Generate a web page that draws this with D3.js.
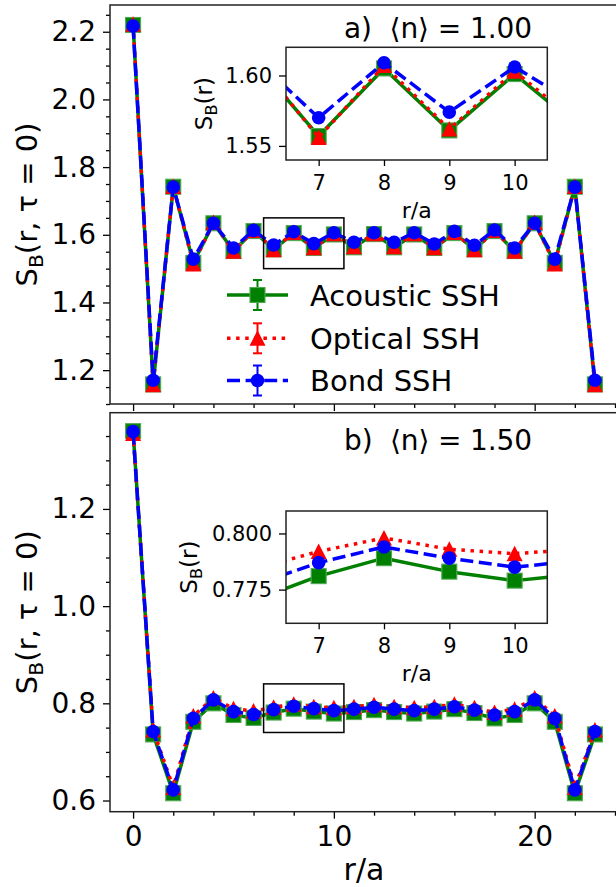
<!DOCTYPE html>
<html><head><meta charset="utf-8">
<script src="https://cdn.jsdelivr.net/npm/d3@7"></script>
<style>
body{margin:0;background:#fff}
svg{display:block}
text{font-family:"DejaVu Sans",sans-serif;fill:#000}
</style>
</head><body>
<svg id="chart" width="616" height="887"></svg>
<script>
// ---------------- data ----------------
const distances = [0,1,2,3,4,5,6,7,8,9,10,11,12,13,14,15,16,17,18,19,20,21,22,23];
const seriesNames = ["Acoustic SSH","Optical SSH","Bond SSH"];
// panel a) <n> = 1.00
const acousticA = [2.220,1.158,1.742,1.517,1.634,1.552,1.611,1.557,1.605,1.561,1.601,1.563,1.602,1.563,1.601,1.561,1.605,1.557,1.611,1.552,1.634,1.517,1.742,1.158];
const opticalA  = [2.222,1.157,1.743,1.514,1.636,1.551,1.613,1.556,1.607,1.562,1.603,1.565,1.603,1.565,1.603,1.562,1.607,1.556,1.613,1.551,1.636,1.514,1.743,1.157];
const bondA     = [2.217,1.170,1.741,1.528,1.634,1.561,1.613,1.570,1.609,1.574,1.606,1.578,1.606,1.578,1.606,1.573,1.610,1.569,1.614,1.561,1.634,1.528,1.741,1.170];
// panel b) <n> = 1.50
const acousticB = [1.360,0.736,0.615,0.762,0.800,0.776,0.770,0.781,0.789,0.783,0.779,0.782,0.786,0.782,0.779,0.783,0.788,0.780,0.769,0.776,0.800,0.762,0.615,0.736];
const opticalB  = [1.355,0.745,0.627,0.774,0.811,0.789,0.784,0.792,0.798,0.793,0.791,0.793,0.797,0.793,0.791,0.793,0.798,0.791,0.781,0.788,0.811,0.774,0.627,0.745];
const bondB     = [1.359,0.742,0.622,0.769,0.807,0.783,0.777,0.787,0.794,0.789,0.785,0.788,0.792,0.788,0.785,0.788,0.793,0.786,0.776,0.783,0.807,0.769,0.622,0.742];
// ticks / labels
const panelTitles = ["a)\u00A0\u00A0\u27E8n\u27E9 = 1.00", "b)\u00A0\u00A0\u27E8n\u27E9 = 1.50"];
const xMajorTicks = [0,10,20];
const xMinorTicks = [2,4,6,8,12,14,16,18,22,24];
const yMajorTicksA = [1.2,1.4,1.6,1.8,2.0,2.2];
const yMajorTicksB = [0.6,0.8,1.0,1.2];
const insetXTicks = [7,8,9,10];
const insetYTicksA = [1.55,1.60];
const insetYTicksB = [0.775,0.800];
const insetXDomain = [6.5,10.5];

// ---------------- layout ----------------
const svg = d3.select("#chart");
const X0 = 110, X1 = 618;
const x = d3.scaleLinear().domain([-1.15,24.15]).range([X0,X1]);
const styles = [
  {color:"#008000", dash:null, marker:"square"},
  {color:"#ff0000", dash:"3.5,5.6", marker:"triangle"},
  {color:"#0000ff", dash:"13,5.6", marker:"circle"}
];
const LW = 3.5;

function drawMarker(g, type, cx, cy, color){
  if(type==="square"){
    g.append("rect").attr("x",cx-7.5).attr("y",cy-7.5).attr("width",15).attr("height",15)
      .attr("fill",color).attr("stroke","#52a852").attr("stroke-width",1.1);
  } else if(type==="triangle"){
    g.append("path").attr("d",`M${cx},${cy-8}L${cx+8},${cy+7.5}L${cx-8},${cy+7.5}Z`).attr("fill",color);
  } else {
    g.append("circle").attr("cx",cx).attr("cy",cy).attr("r",6.8).attr("fill",color);
  }
}

function drawSeries(g, xs, ys, seriesArr){
  seriesArr.forEach((vals,i)=>{
    const st = styles[i];
    const line = d3.line().x((d,j)=>xs(distances[j])).y(d=>ys(d));
    g.append("path").attr("d",line(vals)).attr("fill","none").attr("stroke",st.color)
      .attr("stroke-width",LW).attr("stroke-dasharray",st.dash).attr("stroke-linejoin","round");
    vals.forEach((v,j)=>drawMarker(g, st.marker, xs(distances[j]), ys(v), st.color));
  });
}

function styleAxis(sel, fontSize){
  sel.select(".domain").remove();
  sel.selectAll(".tick line").attr("stroke","#000").attr("stroke-width",1.3);
  sel.selectAll(".tick text").attr("font-size",fontSize).attr("font-family","DejaVu Sans").attr("fill","#000");
}

function ylabel(g, cx, cy, size, rest){
  const t = g.append("text").attr("transform",`translate(${cx},${cy}) rotate(-90)`)
    .attr("text-anchor","middle").attr("font-size",size);
  t.append("tspan").text("S");
  t.append("tspan").attr("font-size",size*0.7).attr("dy",size*0.2).text("B");
  t.append("tspan").attr("dy",-size*0.2).text(rest);
}

const panels = [
  {top:5, bottom:404, ydom:[1.1,2.279], major:yMajorTicksA, data:[acousticA,opticalA,bondA],
   title:panelTitles[0], titleY:37.5, xLabels:false, box:[1.50,1.65],
   inset:{top:47.3,bottom:160,ydom:[1.54,1.62],ticks:insetYTicksA,fmt:".2f",ylabX:212,xlabY:218},
   legend:true},
  {top:412.7, bottom:811.7, ydom:[0.577,1.398], major:yMajorTicksB, data:[acousticB,opticalB,bondB],
   title:panelTitles[1], titleY:450, xLabels:true, box:[0.74,0.84],
   inset:{top:511,bottom:623.3,ydom:[0.76,0.81],ticks:insetYTicksB,fmt:".3f",ylabX:197,xlabY:681},
   legend:false}
];

panels.forEach((p,pi)=>{
  const g = svg.append("g");
  const y = d3.scaleLinear().domain(p.ydom).range([p.bottom,p.top]);
  const clipId = "clip"+pi;
  svg.append("clipPath").attr("id",clipId).append("rect")
    .attr("x",X0).attr("y",p.top).attr("width",X1-X0).attr("height",p.bottom-p.top);

  // minor y ticks every 0.05
  const lo = Math.ceil(p.ydom[0]/0.05-1e-6), hi = Math.floor(p.ydom[1]/0.05+1e-6);
  const yMinor = d3.range(lo,hi+1).map(k=>+(k*0.05).toFixed(3))
     .filter(v=>!p.major.some(m=>Math.abs(m-v)<1e-6));
  g.append("g").attr("transform",`translate(${X0},0)`)
    .call(d3.axisLeft(y).tickValues(yMinor).tickSize(4).tickFormat(""))
    .call(s=>styleAxis(s,0));
  g.append("g").attr("transform",`translate(${X0},0)`)
    .call(d3.axisLeft(y).tickValues(p.major).tickSize(7).tickPadding(7).tickFormat(d3.format(".1f")))
    .call(s=>styleAxis(s,28));
  g.append("g").attr("transform",`translate(0,${p.bottom})`)
    .call(d3.axisBottom(x).tickValues(xMinorTicks).tickSize(4).tickFormat(""))
    .call(s=>styleAxis(s,0));
  g.append("g").attr("transform",`translate(0,${p.bottom})`)
    .call(d3.axisBottom(x).tickValues(xMajorTicks).tickSize(7).tickPadding(7)
          .tickFormat(p.xLabels ? d3.format("d") : ""))
    .call(s=>styleAxis(s,28));

  // data
  const dg = g.append("g").attr("clip-path",`url(#${clipId})`);
  drawSeries(dg, x, y, p.data);

  // indicator box
  g.append("rect").attr("x",x(insetXDomain[0])).attr("y",y(p.box[1]))
    .attr("width",x(insetXDomain[1])-x(insetXDomain[0])).attr("height",y(p.box[0])-y(p.box[1]))
    .attr("fill","none").attr("stroke","#000").attr("stroke-width",1.5);

  // frame
  g.append("rect").attr("x",X0).attr("y",p.top).attr("width",X1-X0).attr("height",p.bottom-p.top)
    .attr("fill","none").attr("stroke","#222").attr("stroke-width",1.5);

  // y label
  ylabel(g, 37, (p.top+p.bottom)/2, 29, "(r, \u03C4 = 0)");

  // title
  g.append("text").attr("x",344).attr("y",p.titleY).attr("font-size",28)
    .attr("textLength",188).attr("lengthAdjust","spacing").text(p.title);

  // inset
  const ins = p.inset;
  const IX0 = 286, IX1 = 547.3;
  const ix = d3.scaleLinear().domain(insetXDomain).range([IX0,IX1]);
  const iy = d3.scaleLinear().domain(ins.ydom).range([ins.bottom,ins.top]);
  const ig = g.append("g");
  ig.append("rect").attr("x",IX0).attr("y",ins.top).attr("width",IX1-IX0).attr("height",ins.bottom-ins.top).attr("fill","#fff");
  const iclip = "iclip"+pi;
  svg.append("clipPath").attr("id",iclip).append("rect")
    .attr("x",IX0).attr("y",ins.top).attr("width",IX1-IX0).attr("height",ins.bottom-ins.top);
  const idg = ig.append("g").attr("clip-path",`url(#${iclip})`);
  drawSeries(idg, ix, iy, p.data);
  ig.append("rect").attr("x",IX0).attr("y",ins.top).attr("width",IX1-IX0).attr("height",ins.bottom-ins.top)
    .attr("fill","none").attr("stroke","#222").attr("stroke-width",1.5);
  ig.append("g").attr("transform",`translate(${IX0},0)`)
    .call(d3.axisLeft(iy).tickValues(ins.ticks).tickSize(7).tickPadding(7).tickFormat(d3.format(ins.fmt)))
    .call(s=>styleAxis(s,21));
  ig.append("g").attr("transform",`translate(0,${ins.bottom})`)
    .call(d3.axisBottom(ix).tickValues(insetXTicks).tickSize(6).tickPadding(9).tickFormat(d3.format("d")))
    .call(s=>styleAxis(s,21));
  ylabel(ig, ins.ylabX, (ins.top+ins.bottom)/2, 23, "(r)");
  ig.append("text").attr("x",(IX0+IX1)/2).attr("y",ins.xlabY).attr("text-anchor","middle")
    .attr("font-size",22).text("r/a");

  // legend
  if(p.legend){
    const rows = [295, 338.3, 380.5];
    rows.forEach((ry,i)=>{
      const st = styles[i];
      const lg = g.append("g");
      lg.append("line").attr("x1",227).attr("x2",288).attr("y1",ry).attr("y2",ry)
        .attr("stroke",st.color).attr("stroke-width",LW).attr("stroke-dasharray",st.dash);
      const mx = 257.5;
      lg.append("line").attr("x1",mx).attr("x2",mx).attr("y1",ry-15).attr("y2",ry+15)
        .attr("stroke",st.color).attr("stroke-width",2);
      [ry-15,ry+15].forEach(cy=>lg.append("line").attr("x1",mx-4.5).attr("x2",mx+4.5)
        .attr("y1",cy).attr("y2",cy).attr("stroke",st.color).attr("stroke-width",2));
      drawMarker(lg, st.marker, mx, ry, st.color);
      lg.append("text").attr("x",310).attr("y",ry+10.5).attr("font-size",29).text(seriesNames[i]);
    });
  }
});

// x label
svg.append("text").attr("x",364).attr("y",880).attr("text-anchor","middle").attr("font-size",30).text("r/a");
</script>
</body></html>
